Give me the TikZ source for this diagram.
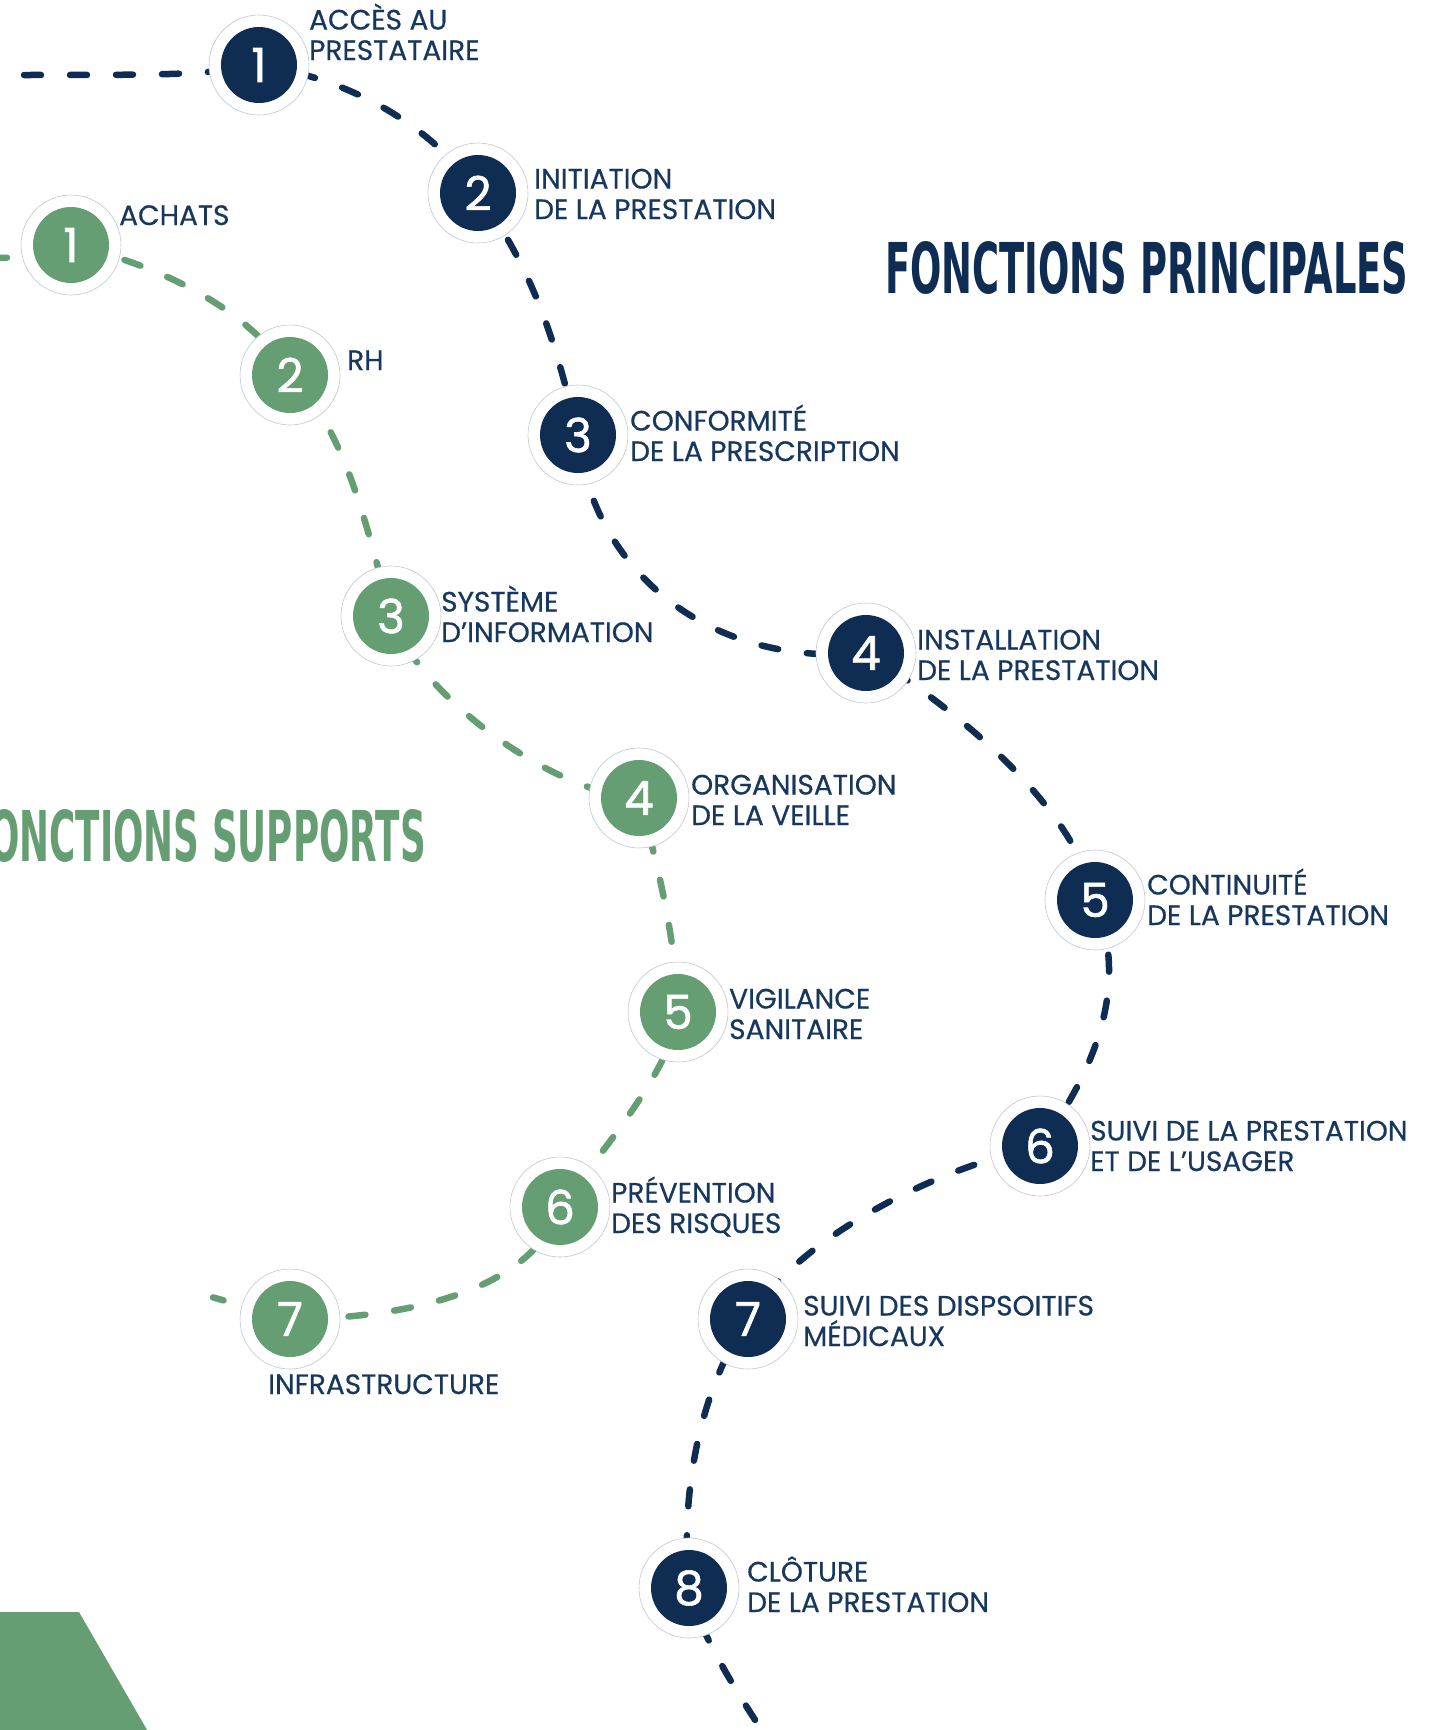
\documentclass[tikz,border=0pt]{standalone}
\usepackage{fontspec}
\usepackage{graphicx}
\setmainfont{Poppins}[FakeBold=0.5]
\newfontfamily\headfont{DejaVu Sans}
\newfontfamily\digitfont{Poppins}[FakeBold=1.2]
\usetikzlibrary{backgrounds}

\definecolor{navy}{HTML}{0F2D52}
\definecolor{navytext}{HTML}{17375E}
\definecolor{sage}{HTML}{659E73}
\definecolor{ringgray}{HTML}{BFC7D2}

\begin{document}
\begin{tikzpicture}[x=1pt, y=-1pt]
	\tikzset{stepnode/.style={circle, minimum size=100pt, inner sep=0pt, fill=white, draw=ringgray, line width=0.6pt, text=white, font=\digitfont\fontsize{47}{47}\selectfont, path picture={\fill[#1] (path picture bounding box.center) circle (38pt);}},
		lbl/.style={anchor=base west, inner sep=0pt, align=left, text=navytext, font=\fontsize{28}{30.5}\selectfont},
		trail/.style={line width=6.5pt, dash pattern=on 17pt off 29pt, line cap=round, #1}}

	\useasboundingbox (0,0) rectangle (1428,1730);

	% titres
	\node[anchor=north west, inner sep=0pt, text=navy] (titlemain) at (885,241) {\resizebox{523pt}{52pt}{\headfont\bfseries FONCTIONS PRINCIPALES}};
	\node[anchor=north east, inner sep=0pt, text=sage] (titlesupport) at (426,809) {\resizebox{461pt}{52pt}{\headfont\bfseries FONCTIONS SUPPORTS}};
	\fill[sage] (0,1612) -- (79,1612) -- (150,1735) -- (0,1735) -- cycle;

	% fonctions principales
	\node[stepnode=navy] (p1) at (259,65) {1};
	\node[stepnode=navy] (p2) at (478,193) {2};
	\node[stepnode=navy] (p3) at (578,435) {3};
	\node[stepnode=navy] (p4) at (866,653) {4};
	\node[stepnode=navy] (p5) at (1095,900) {5};
	\node[stepnode=navy] (p6) at (1040,1146) {6};
	\node[stepnode=navy] (p7) at (748,1319) {7};
	\node[stepnode=navy] (p8) at (689,1588) {8};

	% base = derniere ligne
	\node[lbl] (p1txt) at (309,60) {ACCÈS AU\\PRESTATAIRE};
	\node[lbl] (p2txt) at (534,219) {INITIATION\\DE LA PRESTATION};
	\node[lbl] (p3txt) at (630,461) {CONFORMITÉ\\DE LA PRESCRIPTION};
	\node[lbl] (p4txt) at (917,680) {INSTALLATION\\DE LA PRESTATION};
	\node[lbl] (p5txt) at (1147,925) {CONTINUITÉ\\DE LA PRESTATION};
	\node[lbl] (p6txt) at (1090,1171) {SUIVI DE LA PRESTATION\\ET DE L’USAGER};
	\node[lbl] (p7txt) at (803,1346) {SUIVI DES DISPSOITIFS\\MÉDICAUX};
	\node[lbl] (p8txt) at (747,1612) {CLÔTURE\\DE LA PRESTATION};

	% fonctions supports
	\node[stepnode=sage] (s1) at (71,245) {1};
	\node[stepnode=sage] (s2) at (290,375) {2};
	\node[stepnode=sage] (s3) at (391,616) {3};
	\node[stepnode=sage] (s4) at (639,798) {4};
	\node[stepnode=sage] (s5) at (678,1012) {5};
	\node[stepnode=sage] (s6) at (560,1207) {6};
	\node[stepnode=sage] (s7) at (290,1319) {7};

	\node[lbl] (s1txt) at (119,225) {ACHATS};
	\node[lbl] (s2txt) at (347,370) {RH};
	\node[lbl] (s3txt) at (441,642) {SYSTÈME\\D’INFORMATION};
	\node[lbl] (s4txt) at (691,825) {ORGANISATION\\DE LA VEILLE};
	\node[lbl] (s5txt) at (729,1039) {VIGILANCE\\SANITAIRE};
	\node[lbl] (s6txt) at (611,1233) {PRÉVENTION\\DES RISQUES};
	\node[lbl] (s7txt) at (268,1394) {INFRASTRUCTURE};

	\begin{scope}[on background layer]
		\coordinate (pstart) at (-10,75);
		\coordinate (pend) at (775,1750);
		\coordinate (sstart) at (-10,258);
		\coordinate (send) at (208,1296);

		\draw[trail=navy, dash phase=12pt] (pstart) .. controls +(200,0) and +(-60,10) .. (p1.center)
			.. controls +(100,15) and +(-40,-60) .. (p2.center)
			.. controls +(62,87) and +(-20,-80) .. (p3.center)
			.. controls +(12,126) and +(-166,15) .. (p4.center)
			.. controls +(100,62) and +(-20,-90) .. (p5.center)
			.. controls +(35,86) and +(55,-76) .. (p6.center)
			.. controls +(-110,24) and +(50,-80) .. (p7.center)
			.. controls +(-48,71) and +(-9,-96) .. (p8.center)
			.. controls +(10,50) and +(-20,-30) .. (pend);

		\draw[trail=sage] (sstart) .. controls +(40,0) and +(-40,10) .. (s1.center)
			.. controls +(90,20) and +(-40,-65) .. (s2.center)
			.. controls +(55,55) and +(-26,-96) .. (s3.center)
			.. controls +(25,75) and +(-90,-5) .. (s4.center)
			.. controls +(20,70) and +(-2,-70) .. (s5.center)
			.. controls +(-5,55) and +(45,-60) .. (s6.center)
			.. controls +(-30,90) and +(100,0) .. (s7.center);
		\draw[trail=sage, dash pattern=on 0pt off 69pt on 11pt off 200pt] (s7.center) -- (send);
	\end{scope}
\end{tikzpicture}
\end{document}
